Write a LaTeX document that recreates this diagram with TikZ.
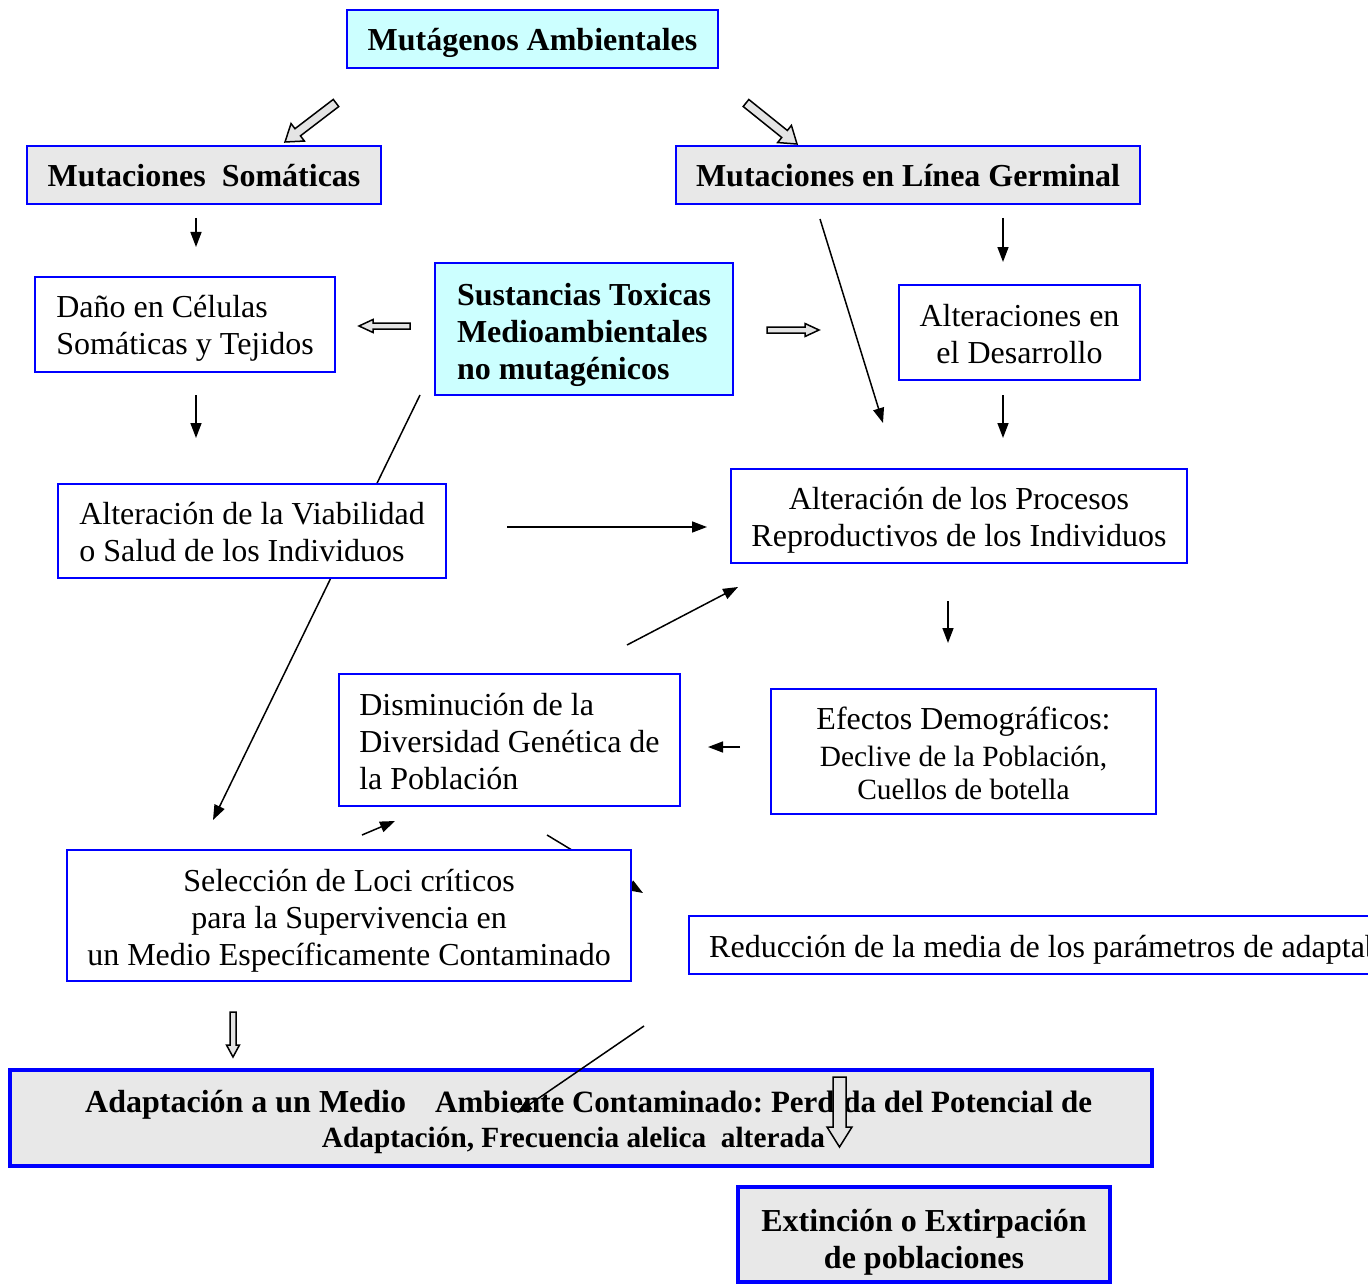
\documentclass[tikz,border=0pt]{standalone}
\usepackage{fontspec}
\setmainfont{Liberation Serif}
\usetikzlibrary{calc,arrows.meta}
\definecolor{bblue}{RGB}{0,0,255}
\definecolor{lcyan}{RGB}{204,255,255}
\definecolor{lgray}{RGB}{232,232,232}
\definecolor{agray}{RGB}{228,228,228}
\newcommand\smf{\fontsize{29.4}{33}\selectfont}
\newcommand\bigb{\fontsize{31}{35}\selectfont\bfseries\frenchspacing}
\newcommand\bigbb{\fontsize{32}{35}\selectfont\bfseries\frenchspacing}
\newcommand\smb{\fontsize{29.3}{35}\selectfont\bfseries\frenchspacing}
\newcommand\hollowarr[5]{%
  \coordinate (#1-#2-c) at ($(#2)!#5!(#1)$);
  \draw[hollowarrow] ($(#1)!#3!90:(#2)$) -- ($(#1-#2-c)!#3!-90:(#1)$) -- ($(#1-#2-c)!#4!-90:(#1)$) -- (#2) -- ($(#1-#2-c)!#4!90:(#1)$) -- ($(#1-#2-c)!#3!90:(#1)$) -- ($(#1)!#3!-90:(#2)$) -- cycle;}
\tikzset{
  box/.style={draw=bblue, line width=2pt, fill=white, inner sep=0pt},
  thickbox/.style={draw=bblue, line width=4.5pt, fill=lgray, inner sep=0pt},
  txt/.style={inner sep=0pt, font=\fontsize{32}{37}\selectfont},
  btxt/.style={inner sep=0pt, font=\fontsize{32}{37}\selectfont\bfseries},
  conn/.style={line width=1.5pt, -{Triangle[length=15pt,width=11pt]}},
  hollowarrow/.style={draw=black, line width=1.5pt, fill=agray, line join=miter}
}
\begin{document}
\begin{tikzpicture}[x=1pt,y=-1pt]
\useasboundingbox (0,0) rectangle (1368,1284);
\clip (0,0) rectangle (1368,1284);
% coordinates for free arrows
\coordinate (a1s) at (196,218); \coordinate (a1e) at (196,247);
\coordinate (a2s) at (1003,218); \coordinate (a2e) at (1003,262);
\coordinate (a3s) at (820,219); \coordinate (a3e) at (883,423);
\coordinate (a4s) at (196,395); \coordinate (a4e) at (196,438);
\coordinate (a5s) at (1003,395); \coordinate (a5e) at (1003,438);
\coordinate (a6s) at (420,395); \coordinate (a6e) at (213,820);
\coordinate (a7s) at (507,527); \coordinate (a7e) at (707,527);
\coordinate (a8s) at (627,645); \coordinate (a8e) at (738,587);
\coordinate (a9s) at (948,601); \coordinate (a9e) at (948,643);
\coordinate (a10s) at (740,747); \coordinate (a10e) at (708,747);
\coordinate (a11s) at (362,835); \coordinate (a11e) at (395,821);
\coordinate (a12s) at (547,835); \coordinate (a12e) at (643,893);
\coordinate (a13s) at (644,1026); \coordinate (a13e) at (517,1113);
\coordinate (h1s) at (336,103); \coordinate (h1e) at (285,142);
\coordinate (h2s) at (746,103); \coordinate (h2e) at (797,144);
\coordinate (h3s) at (410,326); \coordinate (h3e) at (359,326);
\coordinate (h4s) at (767,330); \coordinate (h4e) at (819,330);
\coordinate (h5s) at (233,1012); \coordinate (h5e) at (233,1057);
\coordinate (h6s) at (839.5,1077); \coordinate (h6e) at (839.5,1147);

% arrows hidden partly behind boxes
\draw[conn] (a6s) -- (a6e);
\draw[conn] (a12s) -- (a12e);

% boxes
\node[box, fill=lcyan, minimum width=371pt, minimum height=58pt] (muta) at (532.5,39) {};
\node[btxt] (muta-t) at (532.5,43) {Mutágenos Ambientales};
\node[box, fill=lgray, minimum width=354pt, minimum height=58pt] (soma) at (204,175) {};
\node[btxt] (soma-t) at (204,176) {Mutaciones~ Somáticas};
\node[box, fill=lgray, minimum width=464pt, minimum height=58pt] (germ) at (908,175) {};
\node[btxt] (germ-t) at (908,176) {Mutaciones en Línea Germinal};
\node[box, minimum width=300pt, minimum height=95pt] (dano) at (185,324.5) {};
\node[txt, align=left] (dano-t) at (185,328.5) {Daño en Células\\Somáticas y Tejidos};
\node[box, fill=lcyan, minimum width=298pt, minimum height=132pt] (sust) at (584,329) {};
\node[btxt, align=left] (sust-t) at (584,335) {Sustancias Toxicas\\Medioambientales\\no mutagénicos};
\node[box, minimum width=241pt, minimum height=95pt] (desa) at (1019.5,332.5) {};
\node[txt, align=center] (desa-t) at (1019.5,334.5) {Alteraciones en\\el Desarrollo};
\node[box, minimum width=388pt, minimum height=94pt] (viab) at (252,531) {};
\node[txt, align=left] (viab-t) at (252,532) {Alteración de la Viabilidad\\o Salud de los Individuos};
\node[box, minimum width=456pt, minimum height=94pt] (repr) at (959,516) {};
\node[txt, align=center] (repr-t) at (959,520) {Alteración de los Procesos\\Reproductivos de los Individuos};
\node[box, minimum width=341pt, minimum height=132pt] (dism) at (509.5,740) {};
\node[txt, align=left] (dism-t) at (509.5,742) {Disminución de la\\Diversidad Genética de\\la Población};
\node[box, minimum width=385pt, minimum height=125pt] (efec) at (963.5,751.5) {};
\node[txt, align=center] (efec-t) at (963.5,753.5) {Efectos Demográficos:\\ \smf Declive de la Población,\\[-4pt] \smf Cuellos de botella};
\node[box, minimum width=564pt, minimum height=131pt] (sele) at (349,915.5) {};
\node[txt, align=center] (sele-t) at (349,920.5) {Selección de Loci críticos\\para la Supervivencia en\\un Medio Específicamente Contaminado};
\node[box, minimum width=760pt, minimum height=58pt, anchor=west] (redu) at (688,945) {};
\node[txt, anchor=west] (redu-t) at (709,950) {Reducción de la media de los parámetros de adaptabilidad};
\node[thickbox, minimum width=1142pt, minimum height=96pt] (adap) at (581,1118) {};
\node[inner sep=0pt, anchor=base west, font=\bigbb] (adap-t1a) at (85,1112) {Adaptación a un Medio};
\node[inner sep=0pt, anchor=base west, font=\bigb] (adap-t1b) at (435,1112) {Ambiente Contaminado: Perdida del Potencial de};
\node[inner sep=0pt, anchor=base, font=\smb] (adap-t2) at (573.5,1147) {Adaptación, Frecuencia alelica\ \ alterada};
\node[thickbox, minimum width=372pt, minimum height=95pt] (exti) at (924,1234.5) {};
\node[btxt, align=center] (exti-t) at (924,1242) {Extinción o Extirpación\\de poblaciones};

% connectors
\draw[conn] (a1s) -- (a1e);
\draw[conn] (a2s) -- (a2e);
\draw[conn] (a3s) -- (a3e);
\draw[conn] (a4s) -- (a4e);
\draw[conn] (a5s) -- (a5e);
\draw[conn] (a7s) -- (a7e);
\draw[conn] (a8s) -- (a8e);
\draw[conn] (a9s) -- (a9e);
\draw[conn] (a10s) -- (a10e);
\draw[conn] (a11s) -- (a11e);
\draw[conn] (a13s) -- (a13e);

% hollow arrows
\hollowarr{h1s}{h1e}{4.5pt}{11pt}{16pt}
\hollowarr{h2s}{h2e}{4.5pt}{11pt}{16pt}
\hollowarr{h3s}{h3e}{3pt}{6.5pt}{14pt}
\hollowarr{h4s}{h4e}{3pt}{6.5pt}{14pt}
\hollowarr{h5s}{h5e}{3pt}{6.5pt}{12pt}
\hollowarr{h6s}{h6e}{6.5pt}{12.5pt}{20pt}
\end{tikzpicture}
\end{document}
